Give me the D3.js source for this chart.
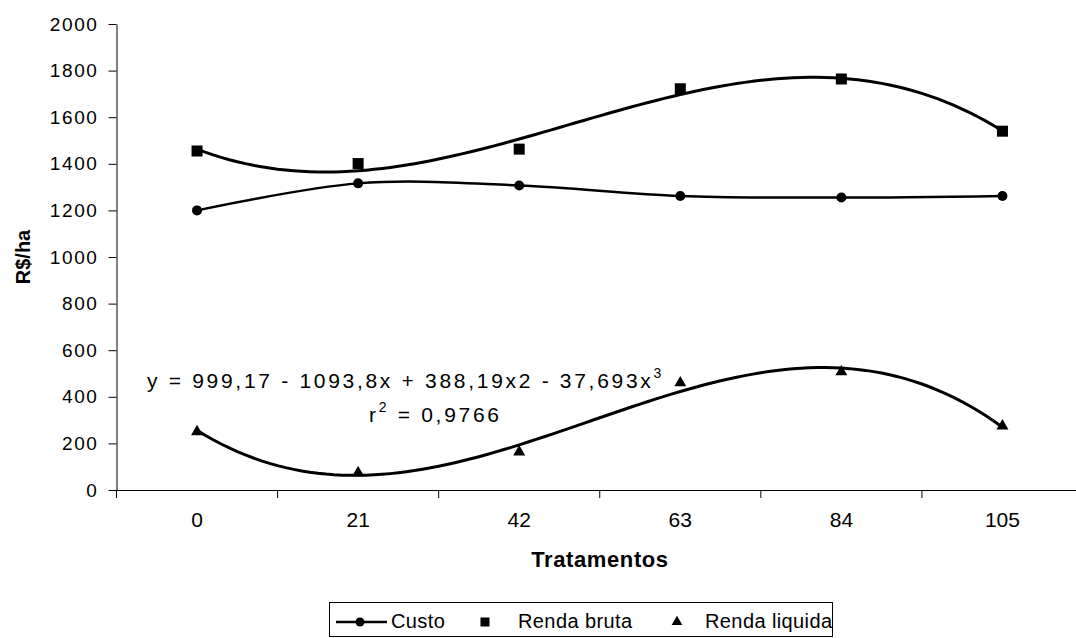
<!DOCTYPE html>
<meta charset="utf-8">
<head>
    <title>Custo e renda por tratamento</title>
    <script src="https://d3js.org/d3.v7.min.js"></script>
    <style>
        body { margin: 0; background: #fff; }
        text { font-family: "Liberation Sans", Arial, sans-serif; fill: #000; }
    </style>
</head>

<body>
    <script>
        // values
        var categories = ["0", "21", "42", "63", "84", "105"];
        var custo = [1200, 1316, 1307, 1262, 1255, 1262];
        var rendaBruta = [1455, 1401, 1463, 1722, 1764, 1540];
        var rendaLiquida = [250, 74, 163, 460, 507, 275];
        // coefficients of the equation printed on the chart (x = 1..6)
        var liquidaCoef = [999.17, -1093.8, 388.19, -37.693];
        var yTicks = [0, 200, 400, 600, 800, 1000, 1200, 1400, 1600, 1800, 2000];

        var width = 1076, height = 638;

        var svg = d3.select("body")
            .append("svg")
            .attr("width", width)
            .attr("height", height);

        var x = d3.scaleBand().domain(categories).range([116.5, 1083]).padding(0);
        var y = d3.scaleLinear().domain([0, 2000]).range([490, 24]);
        // position of x = 1..6 (category index) for the trend lines
        var xIdx = d3.scaleLinear().domain([1, 6])
            .range([x(categories[0]) + x.bandwidth() / 2, x(categories[5]) + x.bandwidth() / 2]);

        // least squares cubic for the Renda bruta trend line
        function cubicFit(ys) {
            var n = 4, A = [], b = [];
            for (var i = 0; i < n; i++) {
                A.push([0, 0, 0, 0]);
                b.push(0);
            }
            ys.forEach(function (v, k) {
                var t = k + 1;
                for (var i = 0; i < n; i++) {
                    for (var j = 0; j < n; j++) A[i][j] += Math.pow(t, i + j);
                    b[i] += v * Math.pow(t, i);
                }
            });
            // gaussian elimination
            for (var c = 0; c < n; c++) {
                for (var r = c + 1; r < n; r++) {
                    var f = A[r][c] / A[c][c];
                    for (var k = c; k < n; k++) A[r][k] -= f * A[c][k];
                    b[r] -= f * b[c];
                }
            }
            var coef = [0, 0, 0, 0];
            for (var r2 = n - 1; r2 >= 0; r2--) {
                var s = b[r2];
                for (var k2 = r2 + 1; k2 < n; k2++) s -= A[r2][k2] * coef[k2];
                coef[r2] = s / A[r2][r2];
            }
            return coef;
        }
        function poly(coef, t) {
            return coef[0] + coef[1] * t + coef[2] * t * t + coef[3] * t * t * t;
        }
        var brutaCoef = cubicFit(rendaBruta);

        // y axis
        var yAxis = svg.append("g")
            .attr("transform", "translate(" + x.range()[0] + ",0)")
            .call(d3.axisLeft(y).tickValues(yTicks).tickFormat(d3.format("d"))
                .tickSize(8).tickSizeOuter(0).tickPadding(10));
        yAxis.selectAll("text").style("font-size", "19px").style("letter-spacing", "1.6px");

        // x axis (labels centred in bands, ticks on the band edges)
        var xAxis = svg.append("g")
            .attr("transform", "translate(0," + y(0) + ")")
            .call(d3.axisBottom(x).tickSize(0).tickSizeOuter(0).tickPadding(22));
        xAxis.selectAll("text").style("font-size", "21px");
        xAxis.selectAll(".xedge")
            .data(categories.map(function (c) { return x(c); }).concat([x.range()[1]]))
            .enter()
            .append("line")
            .attr("class", "xedge")
            .attr("x1", function (d) { return d; })
            .attr("x2", function (d) { return d; })
            .attr("y1", 0)
            .attr("y2", 8)
            .attr("stroke", "#000");
        svg.selectAll(".domain").attr("stroke", "#000");
        svg.selectAll(".tick line").attr("stroke", "#000");

        // axis titles
        svg.append("text")
            .attr("transform", "translate(30,257) rotate(-90)")
            .attr("text-anchor", "middle")
            .style("font-size", "20px")
            .style("font-weight", "bold")
            .text("R$/ha");

        svg.append("text")
            .attr("x", 600)
            .attr("y", 567)
            .attr("text-anchor", "middle")
            .style("font-size", "22px")
            .style("font-weight", "bold")
            .style("letter-spacing", "0.6px")
            .text("Tratamentos");

        var cx = function (d, i) { return x(categories[i]) + x.bandwidth() / 2; };
        var samples = d3.range(1, 6.0001, 0.05);

        // trend lines
        var trend = d3.line()
            .x(function (d) { return xIdx(d[0]); })
            .y(function (d) { return y(d[1]); });

        svg.append("path")
            .attr("d", trend(samples.map(function (t) { return [t, poly(brutaCoef, t)]; })))
            .attr("fill", "none")
            .attr("stroke", "#000")
            .attr("stroke-width", 3);

        svg.append("path")
            .attr("d", trend(samples.map(function (t) { return [t, poly(liquidaCoef, t)]; })))
            .attr("fill", "none")
            .attr("stroke", "#000")
            .attr("stroke-width", 3);

        // Custo smoothed line
        var custoLine = d3.line()
            .x(cx)
            .y(function (d) { return y(d); })
            .curve(d3.curveCardinal.tension(0));

        svg.append("path")
            .attr("d", custoLine(custo))
            .attr("fill", "none")
            .attr("stroke", "#000")
            .attr("stroke-width", 2.5);

        // markers
        svg.append("g").selectAll("circle")
            .data(custo)
            .enter()
            .append("circle")
            .attr("cx", cx)
            .attr("cy", function (d) { return y(d); })
            .attr("r", 5)
            .attr("fill", "#000");

        svg.append("g").selectAll("rect")
            .data(rendaBruta)
            .enter()
            .append("rect")
            .attr("x", function (d, i) { return cx(d, i) - 5.5; })
            .attr("y", function (d) { return y(d) - 5.5; })
            .attr("width", 11)
            .attr("height", 11)
            .attr("fill", "#000");

        var tri = d3.symbol().type(d3.symbolTriangle).size(62);
        svg.append("g").selectAll("path")
            .data(rendaLiquida)
            .enter()
            .append("path")
            .attr("d", tri)
            .attr("transform", function (d, i) { return "translate(" + cx(d, i) + "," + y(d) + ")"; })
            .attr("fill", "#000");

        // equation
        var eq = svg.append("text")
            .attr("x", 147)
            .attr("y", 388)
            .style("font-size", "21px")
            .style("letter-spacing", "2.7px");
        eq.append("tspan").text("y = 999,17 - 1093,8x + 388,19x2 - 37,693x");
        eq.append("tspan").attr("dy", -10).style("font-size", "14px").text("3");

        var r2 = svg.append("text")
            .attr("x", 369)
            .attr("y", 422)
            .style("font-size", "21px")
            .style("letter-spacing", "2.7px");
        r2.append("tspan").text("r");
        r2.append("tspan").attr("dy", -10).style("font-size", "14px").text("2");
        r2.append("tspan").attr("dy", 10).text(" = 0,9766");

        // legend
        var legend = svg.append("g");
        legend.append("rect")
            .attr("x", 329.5)
            .attr("y", 602.5)
            .attr("width", 503)
            .attr("height", 34)
            .attr("fill", "#fff")
            .attr("stroke", "#000");

        legend.append("line")
            .attr("x1", 336).attr("x2", 387)
            .attr("y1", 622).attr("y2", 622)
            .attr("stroke", "#000").attr("stroke-width", 2.5);
        legend.append("circle").attr("cx", 360).attr("cy", 622).attr("r", 4.5).attr("fill", "#000");
        legend.append("rect").attr("x", 480.5).attr("y", 617.5).attr("width", 9).attr("height", 9).attr("fill", "#000");
        legend.append("path")
            .attr("d", d3.symbol().type(d3.symbolTriangle).size(50))
            .attr("transform", "translate(677,622)")
            .attr("fill", "#000");

        var legendLabels = ["Custo", "Renda bruta", "Renda liquida"];
        var legendX = [391, 518, 705];
        legend.selectAll("text")
            .data(legendLabels)
            .enter()
            .append("text")
            .attr("x", function (d, i) { return legendX[i]; })
            .attr("y", 628)
            .style("font-size", "20px")
            .style("letter-spacing", "0.4px")
            .text(function (d) { return d; });
    </script>
</body>

</html>
